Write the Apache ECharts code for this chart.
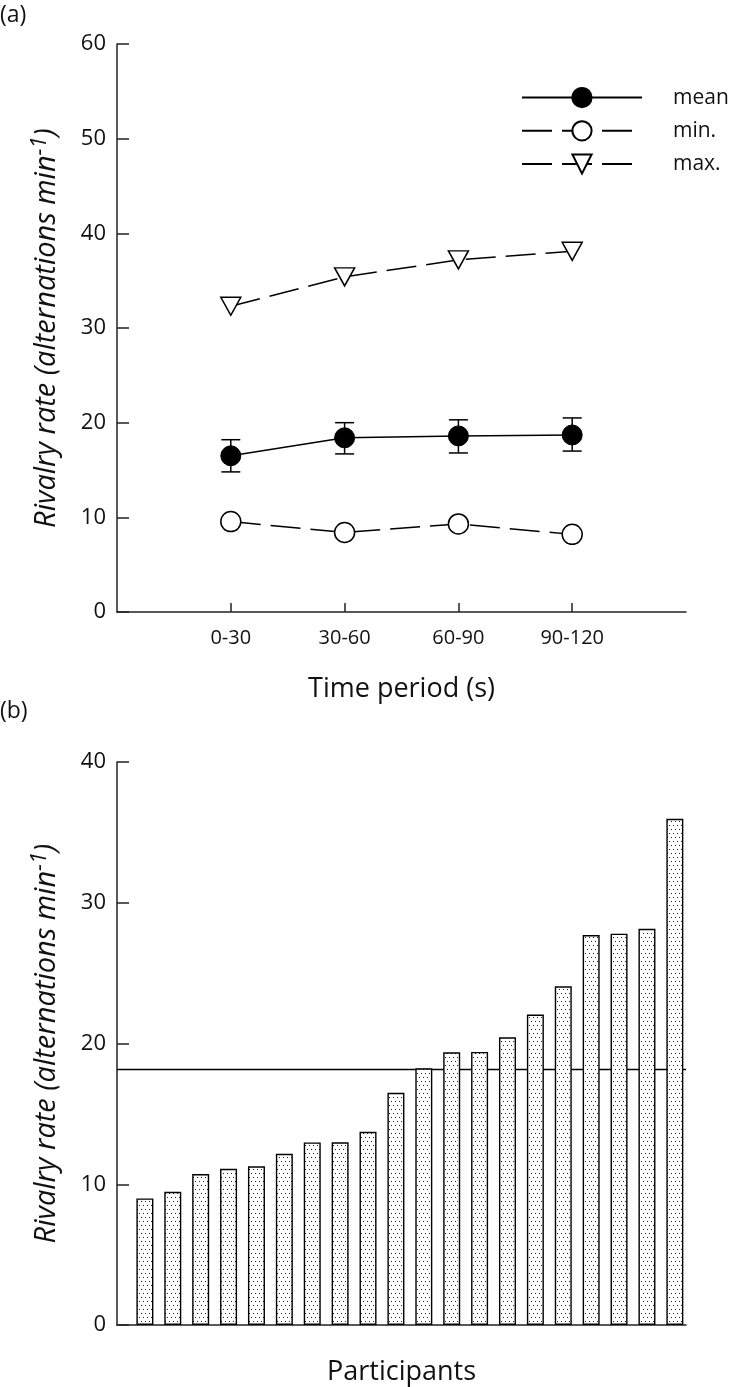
<!DOCTYPE html>
<html><head><meta charset="utf-8">
<script src="https://cdn.jsdelivr.net/npm/echarts@6/dist/echarts.min.js"></script>
<style>html,body{margin:0;padding:0;background:#fff}#c{width:729px;height:1387px}</style>
</head><body><div id="c"></div>
<script>
// ---- data ----
const periods = ['0-30', '30-60', '60-90', '90-120'];
const meanRate = [16.5, 18.4, 18.6, 18.7];
const meanLow = [14.8, 16.7, 16.8, 17.0];
const meanHigh = [18.2, 20.0, 20.3, 20.5];
const minRate = [9.55, 8.4, 9.3, 8.2];
const maxRate = [32.3, 35.4, 37.2, 38.1];
const participantRates = [8.99, 9.46, 10.73, 11.1, 11.27, 12.16, 12.97, 12.98, 13.73, 16.5,
  18.24, 19.37, 19.4, 20.44, 22.06, 24.06, 27.7, 27.8, 28.15, 35.96];
const overallMean = 18.15;
const seriesNames = ['mean', 'min.', 'max.'];

// ---- styles ----
const FONT = '"Open Sans", sans-serif';
const INK = '#111';

const pat = document.createElement('canvas');
pat.width = 4; pat.height = 8;
const pc = pat.getContext('2d');
pc.fillStyle = '#fff'; pc.fillRect(0, 0, 4, 8);
pc.fillStyle = '#222';
pc.fillRect(1, 1, 1, 1);
pc.fillRect(3, 5, 1, 1);

const pos = periods.map((p, i) => i + 1);
const idx = participantRates.map((v, i) => i + 1);

const yName = 'Rivalry rate (alternations min{sup|-1})';
const yNameStyle = {
  fontFamily: FONT, fontSize: 29, fontStyle: 'italic', color: INK,
  rich: { sup: { fontFamily: FONT, fontSize: 22, fontStyle: 'italic', color: INK, verticalAlign: 'top', padding: [0, 0, 14, 0] } }
};
const axisLineStyle = { lineStyle: { color: '#222', width: 1.5 } };

const chart = echarts.init(document.getElementById('c'), null, { renderer: 'canvas' });
chart.setOption({
  animation: false,
  backgroundColor: '#fff',
  textStyle: { fontFamily: FONT },
  graphic: [
    { type: 'text', left: 0, top: 4, style: { text: '(a)', fontFamily: FONT, fontSize: 23, fill: INK } },
    { type: 'text', left: 0, top: 700, style: { text: '(b)', fontFamily: FONT, fontSize: 23, fill: INK } }
  ],
  legend: {
    data: seriesNames,
    orient: 'vertical',
    left: 521, top: 87, padding: 0,
    itemWidth: 120, itemHeight: 24, itemGap: 12,
    textStyle: { fontFamily: FONT, fontSize: 21, color: INK, padding: [0, 0, 0, 26], overflow: 'none' },
    selectedMode: false
  },
  grid: [
    { left: 117, top: 44, width: 569, height: 568 },
    { left: 117, top: 762, width: 569, height: 568 }
  ],
  xAxis: [
    {
      gridIndex: 0, type: 'value', min: 0, max: 5, interval: 1,
      name: 'Time period (s)', nameLocation: 'middle', nameGap: 64,
      nameTextStyle: { fontFamily: FONT, fontSize: 27, color: INK },
      axisLine: axisLineStyle,
      axisTick: { show: true, inside: true, length: 9, lineStyle: { color: '#222', width: 1.5 }, customValues: pos },
      axisLabel: { fontFamily: FONT, fontSize: 20, color: INK, margin: 16, customValues: pos,
        formatter: v => periods[Math.round(v) - 1] || '' },
      splitLine: { show: false }
    },
    {
      gridIndex: 1, type: 'value', min: 0, max: 20.4,
      name: 'Participants', nameLocation: 'middle', nameGap: 34,
      nameTextStyle: { fontFamily: FONT, fontSize: 27, color: INK },
      axisLine: axisLineStyle,
      axisTick: { show: false }, axisLabel: { show: false }, splitLine: { show: false }
    }
  ],
  yAxis: [
    {
      gridIndex: 0, type: 'value', min: 0, max: 60, interval: 10,
      name: yName, nameLocation: 'middle', nameGap: 52, nameTextStyle: yNameStyle,
      axisLine: { show: true, lineStyle: { color: '#222', width: 1.5 } },
      axisTick: { show: true, inside: true, length: 12, lineStyle: { color: '#222', width: 1.5 } },
      axisLabel: { fontFamily: FONT, fontSize: 22, color: INK, margin: 11 },
      splitLine: { show: false }
    },
    {
      gridIndex: 1, type: 'value', min: 0, max: 40, interval: 10,
      name: yName, nameLocation: 'middle', nameGap: 52, nameTextStyle: yNameStyle,
      axisLine: { show: true, lineStyle: { color: '#222', width: 1.5 } },
      axisTick: { show: true, inside: true, length: 12, lineStyle: { color: '#222', width: 1.5 } },
      axisLabel: { fontFamily: FONT, fontSize: 22, color: INK, margin: 11 },
      splitLine: { show: false }
    }
  ],
  series: [
    {
      type: 'custom', name: 'sem', xAxisIndex: 0, yAxisIndex: 0, z: 1,
      data: pos.map((x, i) => [x, meanLow[i], meanHigh[i]]),
      encode: { x: 0, y: [1, 2] },
      renderItem: function (params, api) {
        const x = api.value(0);
        const lo = api.coord([x, api.value(1)]);
        const hi = api.coord([x, api.value(2)]);
        const hw = 9.5;
        const st = { stroke: '#000', lineWidth: 1.5 };
        return {
          type: 'group', children: [
            { type: 'line', shape: { x1: lo[0], y1: lo[1], x2: hi[0], y2: hi[1] }, style: st },
            { type: 'line', shape: { x1: hi[0] - hw, y1: hi[1], x2: hi[0] + hw, y2: hi[1] }, style: st },
            { type: 'line', shape: { x1: lo[0] - hw, y1: lo[1], x2: lo[0] + hw, y2: lo[1] }, style: st }
          ]
        };
      }
    },
    {
      type: 'line', name: 'mean', xAxisIndex: 0, yAxisIndex: 0, z: 3,
      data: pos.map((x, i) => [x, meanRate[i]]),
      symbol: 'circle', symbolSize: 20,
      itemStyle: { color: '#000', borderColor: '#000', borderWidth: 1 },
      lineStyle: { color: '#000', width: 1.5 }
    },
    {
      type: 'line', name: 'min.', xAxisIndex: 0, yAxisIndex: 0, z: 3,
      data: pos.map((x, i) => [x, minRate[i]]),
      symbol: 'circle', symbolSize: 20,
      itemStyle: { color: '#fff', borderColor: '#000', borderWidth: 1.5 },
      lineStyle: { color: '#000', width: 1.5, type: [30, 10] }
    },
    {
      type: 'line', name: 'max.', xAxisIndex: 0, yAxisIndex: 0, z: 3,
      data: pos.map((x, i) => [x, maxRate[i]]),
      symbol: 'triangle', symbolRotate: 180, symbolSize: [20, 18],
      itemStyle: { color: '#fff', borderColor: '#000', borderWidth: 1.5 },
      lineStyle: { color: '#000', width: 1.5, type: [30, 10] }
    },
    {
      type: 'bar', name: 'participants', xAxisIndex: 1, yAxisIndex: 1, z: 2,
      data: idx.map((x, i) => [x, participantRates[i]]),
      barWidth: 17,
      itemStyle: { color: { image: pat, repeat: 'repeat' }, borderColor: '#000', borderWidth: 1.4 },
      markLine: {
        silent: true, symbol: 'none', z: 1, animation: false,
        label: { show: false },
        lineStyle: { color: '#000', width: 1.3, type: 'solid' },
        data: [{ yAxis: overallMean }]
      }
    }
  ]
});
</script>
</body></html>
